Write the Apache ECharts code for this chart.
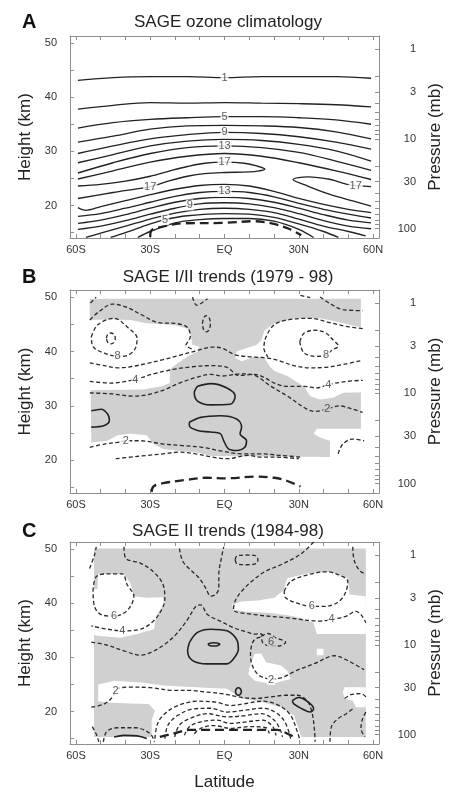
<!DOCTYPE html>
<html>
<head>
<meta charset="utf-8">
<title>SAGE ozone climatology and trends</title>
<script src="https://cdn.jsdelivr.net/npm/echarts@6/dist/echarts.min.js"></script>
<style>
  html, body { margin: 0; padding: 0; background: #fff; }
  #cht { width: 452px; height: 792px; }
</style>
</head>
<body>
<div id="cht"></div>
<script>
const FONT = '"Liberation Sans", Arial, Helvetica, sans-serif';

// ---- axes ----
const latTicks = [-60, -50, -40, -30, -20, -10, 0, 10, 20, 30, 40, 50, 60];
const latLabels = [-60, -30, 0, 30, 60];
const heightTicks = [15, 20, 25, 30, 35, 40, 45, 50];
const heightLabels = [20, 30, 40, 50];
const pressureTicks = [1, 2, 3, 4, 5, 6, 7, 8, 9, 10, 20, 30, 40, 50, 60, 70, 80, 90, 100];
const pressureLabels = [1, 3, 10, 30, 100];
// height of 1 mb and scale height
const H_1MB = 48.9;
const SCALE_H = 7.2;

const panelLetters = ['A', 'B', 'C'];
const panelTitles = ['SAGE ozone climatology', 'SAGE I/II trends (1979 - 98)', 'SAGE II trends (1984-98)'];

// ---- panel A: climatology contours [lat, km] ----
const climContours = [
  [[-59.2,43.1],[-45,43.6],[-30,43.8],[-15,43.8],[0,43.6],[15,43.8],[30,43.8],[45,43.8],[59.2,43.5]],
  [[-59.2,37.8],[-45,38.5],[-30,39.0],[-15,38.9],[0,39.0],[15,38.9],[30,38.8],[45,38.6],[59.2,38.2]],
  [[-59.2,34.3],[-45,35.3],[-30,35.9],[-15,36.2],[0,36.4],[15,36.4],[30,36.2],[45,35.8],[59.2,35.0]],
  [[-59.2,31.7],[-45,32.8],[-30,34.1],[-15,34.7],[0,34.8],[15,34.7],[30,34.4],[45,33.6],[59.2,32.3]],
  [[-59.2,29.6],[-45,31.0],[-30,32.3],[-15,33.1],[0,33.5],[15,33.3],[30,32.7],[45,31.7],[59.2,30.4]],
  [[-59.2,27.9],[-45,29.4],[-30,31.0],[-15,31.9],[0,32.2],[15,32.0],[30,31.3],[45,30.1],[59.2,28.2]],
  [[-59.2,26.0],[-45,27.9],[-30,29.6],[-15,30.7],[0,31.0],[15,30.7],[30,29.8],[45,28.2],[59.2,26.5]],
  [[-59.2,24.9],[-45,26.4],[-30,28.0],[-15,29.1],[0,29.6],[15,29.1],[30,27.9],[45,26.4],[59.2,24.8]],
  [[-59.2,21.3],[-45,22.4],[-30,23.5],[-22,24.6],[-15,25.4],[-8,25.9],[0,26.1],[10,26.2],[14,26.4],[16.3,26.7],
   [13,27.3],[8,27.8],[0,28.0],[-8,27.8],[-15,27.2],[-22,26.4],[-30,25.4],[-40,24.5],[-50,23.9],[-59.2,23.6]],
  [[59.2,23.5],[49.5,23.9],[42.9,24.8],[33.6,25.3],[27.7,24.8],[33.6,23.6],[42.9,22.0],[52.2,20.8],[59.2,19.9]],
  [[-59.2,19.6],[-56,19.1],[-50,19.8],[-40,20.9],[-30,22.0],[-20,23.0],[-10,23.7],[0,23.9],[10,23.6],[20,22.6],[30,21.3],[40,20.2],[50,19.3],[59.2,18.7]],
  [[-59.2,18.0],[-50,18.5],[-40,19.5],[-30,20.6],[-20,21.7],[-10,22.4],[0,22.6],[10,22.4],[20,21.6],[30,20.4],[40,19.3],[50,18.4],[59.2,17.7]],
  [[-59.2,16.7],[-50,17.3],[-40,18.3],[-30,19.5],[-20,20.6],[-10,21.3],[0,21.5],[10,21.3],[20,20.6],[30,19.5],[40,18.3],[50,17.3],[59.2,16.8]],
  [[-59.2,15.6],[-50,16.2],[-40,17.2],[-30,18.4],[-20,19.5],[-10,20.3],[0,20.5],[10,20.3],[20,19.6],[30,18.5],[40,17.2],[50,16.2],[59.2,15.7]],
  [[-56,14.1],[-50,14.9],[-40,16.2],[-30,17.5],[-20,18.6],[-10,19.3],[0,19.5],[10,19.3],[20,18.7],[30,17.5],[40,16.2],[50,15.2],[57,14.4]],
  [[-46,14.1],[-40,15.0],[-30,16.6],[-24,17.4],[-15,18.1],[0,18.5],[10,18.4],[20,17.8],[30,16.6],[40,15.2],[46,14.1]],
  [[-35,14.1],[-30,15.2],[-20,16.8],[-10,17.4],[0,17.6],[10,17.6],[20,17.1],[30,15.6],[36,14.1]],
];
const climTropopause = [[-30,14.2],[-29.5,15.4],[-25,16.1],[-17,16.7],[0,16.8],[12,17.1],[19,16.7],[26,15.7],[31,14.5]];
const climLabels = [
  [0,43.6,'1'], [0,36.4,'5'], [0,33.5,'9'], [0,31.0,'13'], [0,28.0,'17'],
  [-30,23.5,'17'], [53,23.7,'17'], [0,22.6,'13'], [-14,20.1,'9'], [-24,17.4,'5'],
];

// ---- panel B: SAGE I/II trends ----
const trend1Shade = [[-54.5,49.7],[55.1,49.7],[55.1,25.8],[37.3,25.8],[36.0,24.9],[38.6,24.2],[42.6,23.6],[42.6,20.6],
  [-5.0,20.8],[-11.6,21.5],[-18.2,21.7],[-24.8,22.1],[-28.7,23.0],[-31.4,24.6],[-38.0,24.9],[-43.2,24.6],[-47.2,23.6],[-53.8,23.3]];
const trend1Clear = [
  [[-56.4,45.8],[-44.6,45.9],[-38.0,45.8],[-31.4,45.2],[-24.8,45.0],[-19.5,44.8],[-14.9,44.2],[-13.5,42.7],[-12.9,41.2],
   [-10.2,40.9],[-10.9,40.0],[-14.9,39.1],[-18.8,37.9],[-22.1,36.7],[-22.1,34.2],[-25.4,33.6],[-32.7,33.0],[-56.4,32.9]],
  [[57.1,44.2],[45.2,45.5],[38.6,46.1],[28.0,46.1],[20.1,45.2],[16.2,43.9],[14.9,42.1],[12.9,41.2],[10.9,40.9],[6.9,40.3],
   [4.9,40.0],[4.3,38.8],[6.9,38.2],[12.2,39.1],[16.2,38.8],[18.2,37.3],[20.1,36.4],[25.4,35.5],[32.0,33.6],[34.7,31.8],
   [38.6,31.2],[43.9,31.5],[47.9,32.4],[57.1,32.5]],
];
const trend1Neg = [
  [[-54.1,48.9],[-51.8,50.0]],
  [[-54.4,45.8],[-50.5,47.4],[-45.2,48.7],[-39.9,48.2],[-33.3,46.7],[-26.7,45.3],[-18.8,45.1],[-14.9,44.4],[-13.8,42.7],[-15.5,41.2],[-12.2,40.3]],
  [[-53.8,42.7],[-51.2,44.9],[-44.6,46.1],[-39.3,44.5],[-35.3,42.4],[-36.0,40.6],[-38.6,39.4],[-42.6,39.1],[-48.5,39.7],[-53.1,40.9],[-53.8,42.7]],
  [[-47.7,42.4],[-47.2,43.1],[-45.9,43.4],[-44.6,43.1],[-44.1,42.4],[-44.6,41.7],[-45.9,41.4],[-47.2,41.7],[-47.7,42.4]],
  [[-54.4,37.9],[-48.5,37.4],[-43.2,37.0],[-38.0,37.2],[-31.3,37.8],[-24.8,38.5],[-18.2,39.3],[-11.6,40.1],[-5.0,40.8],[-1.0,40.6],
   [4.3,39.4],[10.9,39.0],[17.5,38.8],[22.8,38.2],[28.0,37.4],[34.6,37.0],[41.2,37.1],[47.8,37.6],[55.8,38.4]],
  [[55.8,44.2],[49.2,44.6],[42.6,45.3],[34.6,46.1],[25.4,45.8],[20.1,44.9],[16.8,42.7],[15.9,40.6],[17.5,39.0]],
  [[30.4,41.8],[32.0,43.3],[36.0,43.9],[40.6,43.5],[43.9,42.1],[46.0,41.0],[43.2,40.2],[41.0,39.3],[36.6,39.1],[32.0,39.8],[30.4,41.8]],
  [[38.6,50.0],[42.6,48.8],[47.8,47.7],[55.8,47.5]],
  [[30.7,50.3],[34.6,49.9]],
  [[-12.9,50.0],[-11.2,48.5],[-6.9,49.7]],
  [[-8.9,45.1],[-8.4,46.2],[-7.3,46.6],[-6.2,46.2],[-5.7,45.1],[-6.2,44.0],[-7.3,43.6],[-8.4,44.0],[-8.9,45.1]],
  [[-54.4,34.5],[-45.9,34.2],[-36.6,34.8],[-28.7,35.9],[-20.8,36.7],[-12.9,37.2],[-6.3,37.4],[1.0,37.1],[5.6,35.6],[12.2,35.8],
   [16.2,35.2],[20.1,34.2],[25.4,33.6],[32.0,33.6],[37.3,33.3],[41.9,33.9],[49.2,34.5],[55.8,34.7]],
  [[-54.4,32.4],[-45.2,32.2],[-37.3,31.8],[-30.7,32.1],[-24.1,33.0],[-18.2,34.2],[-10.9,35.3],[-5.6,35.8],[-1.0,35.5],[6.9,35.9],
   [12.2,35.6],[18.8,33.6],[25.4,31.8],[33.3,29.4],[36.6,29.0],[41.2,29.4],[46.5,30.0],[51.8,29.4],[55.8,28.8]],
  [[-54.4,22.4],[-48.5,23.0],[-43.2,23.3],[-39.9,23.6],[-34.0,23.6],[-24.8,23.0],[-16.8,22.7],[-8.9,22.4],[-2.3,21.8],[6.9,21.2],
   [14.8,21.2],[22.8,20.9],[30.7,20.6]],
  [[-43.9,20.3],[-38.0,20.6],[-31.4,20.9],[-24.8,21.2],[-18.2,21.5],[-11.6,21.2],[-5.0,20.6],[1.0,20.3],[9.6,20.9],[14.8,20.6],[20.1,20.6],[30.0,20.3]],
  [[45.9,21.2],[47.8,23.0],[51.8,23.9],[56.4,23.6]],
];
const trend1Pos = [
  [[-53.8,29.1],[-49.8,29.4],[-47.2,28.5],[-46.5,27.3],[-48.5,26.4],[-53.8,26.1]],
  [[-10.9,33.6],[-5.6,34.1],[1.0,33.3],[4.3,31.8],[2.3,30.3],[-5.6,30.2],[-10.9,30.9],[-12.2,32.4],[-10.9,33.6]],
  [[-14.2,27.0],[-9.6,27.9],[-1.7,28.2],[4.9,27.6],[6.9,26.1],[6.3,24.9],[8.9,23.6],[8.2,22.4],[4.9,21.8],[1.6,22.1],
   [-0.3,23.6],[-1.7,24.9],[-5.6,25.2],[-10.9,25.5],[-14.2,26.4],[-14.2,27.0]],
];
const trend1Tropopause = [[-29.4,14.2],[-28.7,15.2],[-24.8,15.8],[-15.5,16.4],[-7.6,16.8],[1.0,16.7],[12.2,17.0],[20.1,16.8],[25.4,16.2],[30.7,15.2]];
const trend1LabelsClear = [[-43.2,39.2,'8'], [-36.0,34.8,'4'], [-39.9,23.6,'2'], [41.0,39.4,'8'], [41.9,33.9,'4']];
const trend1LabelsShaded = [[41.5,29.4,'2']];

// ---- panel C: SAGE II trends ----
const trend2Shade = [[-52.7,50.1],[57.1,50.1],[57.1,15.3],[-52.7,15.3]];
const trend2Clear = [
  [[-53.8,42.5],[-51.3,42.6],[-51.0,45.4],[-40.6,45.4],[-38.0,43.7],[-36.6,41.3],[-31.4,41.0],[-24.8,41.1],[-24.5,39.7],[-27.4,37.9],
   [-28.5,35.2],[-35.3,34.3],[-41.9,33.6],[-51.2,34.0],[-53.8,34.2]],
  [[-51.0,25.0],[-44.6,25.7],[-32.7,25.3],[-24.8,24.8],[-11.6,24.5],[1.0,24.2],[6.9,22.4],[14.8,21.8],[22.8,20.8],[28.0,19.3],
   [31.3,15.0],[-29.4,15.0],[-29.4,18.4],[-28.1,20.2],[-30.7,21.4],[-38.0,21.5],[-45.9,21.6],[-51.0,21.9]],
  [[24.1,42.8],[25.4,44.6],[33.3,45.5],[42.6,45.8],[49.8,44.6],[50.5,41.6],[57.1,41.3],[57.1,34.3],[42.6,34.3],[37.3,34.3],
   [36.0,36.4],[28.0,37.6],[18.8,38.2],[9.6,38.4],[3.6,38.8],[3.0,39.7],[6.9,40.3],[13.5,40.5],[20.1,41.0],[24.1,42.5]],
  [[10.2,28.2],[12.2,30.6],[14.8,30.7],[16.8,29.1],[22.8,28.5],[25.4,27.5],[26.7,26.0],[18.8,25.1],[12.2,25.7],[9.6,26.9]],
  [[37.3,31.6],[40.0,31.6],[40.0,30.4],[37.3,30.4]],
  [[48.5,24.5],[57.1,24.5],[57.1,20.8],[53.1,20.8],[51.8,22.0],[48.5,22.4],[47.8,23.6]],
];
const trend2Neg = [
  [[-54.5,46.4],[-52.5,48.9],[-51.8,50.4]],
  [[-53.1,42.2],[-51.8,44.9],[-47.2,45.4],[-41.3,45.4],[-39.3,43.4],[-36.6,41.3],[-38.0,39.4],[-40.6,38.2],[-44.6,37.6],[-49.8,37.9],[-52.5,39.4],[-53.1,42.2]],
  [[-40.6,50.4],[-39.9,48.3],[-34.0,47.4],[-28.7,45.8],[-24.8,43.4],[-24.1,40.7],[-25.4,38.8],[-28.7,36.7],[-34.0,35.2],[-41.3,34.9],[-47.2,35.2],[-53.8,35.8]],
  [[-18.2,50.1],[-16.8,47.7],[-12.9,45.8],[-10.2,44.6],[-7.6,42.8],[-5.6,41.3],[-3.6,41.6],[-2.3,42.8],[-2.3,45.2],[-1.0,48.9],[-0.3,50.4]],
  [[4.3,48.0],[5.0,48.7],[8.9,48.9],[12.8,48.7],[13.5,48.0],[12.8,47.3],[8.9,47.1],[5.0,47.3],[4.3,48.0]],
  [[-53.8,32.8],[-47.9,32.3],[-40.6,31.2],[-34.0,30.4],[-29.4,31.0],[-24.1,32.4],[-19.5,34.3],[-14.9,37.0],[-11.6,39.4],[-9.6,39.7],
   [-6.9,37.9],[-1.7,36.7],[3.6,35.5],[8.9,34.7],[12.2,34.3],[14.2,34.4],[15.5,34.0],[12.2,33.3],[10.9,32.1],[10.5,30.3],
   [11.5,28.2],[14.2,26.6],[18.8,26.0],[23.4,26.3],[28.7,27.5],[36.6,28.9],[44.5,30.3],[49.8,29.4],[56.4,27.7]],
  [[14.8,33.9],[17.5,34.4],[20.8,33.6],[24.7,32.8],[22.1,32.1],[18.1,32.1],[15.5,32.7],[14.8,33.9]],
  [[24.1,42.2],[26.7,44.0],[33.3,45.2],[41.2,45.8],[47.8,44.9],[49.8,44.0],[48.5,41.6],[45.2,40.0],[39.9,39.4],[35.3,39.4],[29.4,40.0],[24.7,41.0],[24.1,42.2]],
  [[36.0,51.3],[32.0,49.5],[28.0,48.3],[22.8,47.1],[16.2,45.8],[10.9,44.0],[6.9,42.2],[4.3,40.4],[3.6,38.8],[12.2,37.9],
   [25.4,37.3],[38.6,36.7],[43.2,37.0],[49.2,37.6],[53.1,38.5],[55.1,37.9],[57.1,36.4]],
  [[51.8,50.4],[52.5,47.7],[55.1,45.8],[57.1,45.5]],
  [[-53.8,20.8],[-48.5,21.4],[-45.2,22.7],[-43.2,24.2],[-38.0,24.5],[-30.0,24.4],[-20.8,23.9],[-14.2,23.9],[-7.6,23.6],[-1.0,23.3],
   [5.6,22.7],[12.2,22.4],[18.8,22.7],[24.7,23.0],[29.4,23.0],[33.3,22.0],[35.3,19.9],[36.4,16.3],[36.6,14.4]],
  [[-28.1,15.0],[-27.0,17.8],[-24.1,19.6],[-18.8,21.1],[-10.9,21.9],[-3.0,21.7],[2.3,21.1],[7.6,21.4],[15.5,21.9],[22.1,21.1],[26.7,19.3],[29.4,16.3],[30.3,15.0]],
  [[-24.1,15.0],[-22.8,17.5],[-18.8,19.3],[-12.2,20.5],[-5.6,20.6],[1.0,19.9],[7.6,20.2],[15.5,20.6],[21.4,19.6],[24.7,17.8],[26.7,15.0]],
  [[-20.1,15.3],[-18.2,17.5],[-13.5,18.8],[-6.9,19.6],[1.0,19.0],[7.6,19.2],[14.8,19.6],[20.1,18.4],[22.8,16.3],[23.4,15.3]],
  [[-16.2,15.6],[-14.2,17.2],[-9.6,18.1],[-3.0,18.4],[2.3,17.8],[8.9,18.1],[15.5,18.4],[19.5,17.2],[20.8,15.6]],
  [[-12.2,15.9],[-9.6,16.9],[-4.3,17.4],[2.3,16.9],[10.2,17.2],[16.8,17.0],[18.1,15.9]],
  [[-53.4,17.2],[-51.6,15.6],[-50.8,14.4]],
  [[-48.9,14.4],[-47.6,16.3],[-43.2,17.0],[-36.0,17.0],[-30.0,15.9],[-28.3,14.4]],
  [[42.6,14.4],[43.2,17.2],[45.9,18.7],[49.2,19.6],[51.8,20.5]],
  [[48.5,22.4],[51.1,23.1],[55.1,23.3],[57.1,22.7]],
  [[57.1,19.9],[55.8,18.7],[55.1,16.9],[56.7,15.3]],
];
const trend2Pos = [
  [[-14.2,32.7],[-10.9,34.6],[-5.6,35.2],[1.0,34.9],[4.9,33.3],[5.6,31.5],[3.6,29.7],[1.0,28.8],[-6.9,28.8],[-12.9,29.4],[-14.9,31.2],[-14.2,32.7]],
  [[-6.7,32.4],[-6.0,32.6],[-4.3,32.7],[-2.6,32.6],[-1.9,32.4],[-2.6,32.2],[-4.3,32.1],[-6.0,32.2],[-6.7,32.4]],
  [[4.4,23.7],[4.8,24.2],[5.6,24.4],[6.4,24.2],[6.8,23.7],[6.4,23.2],[5.6,23.0],[4.8,23.2],[4.4,23.7]],
  [[27.4,22.0],[30.0,22.6],[34.0,21.7],[36.0,20.5],[34.6,19.9],[31.3,20.5],[28.0,21.4],[27.4,22.0]],
  [[-44.6,15.3],[-40.6,15.6],[-35.3,15.5],[-31.4,15.0]],
];
const trend2Tropopause = [[-26.1,15.3],[-20.8,15.9],[-14.2,16.6],[-8.9,16.6],[1.0,16.6],[6.9,16.6],[14.8,16.6],[21.4,16.6],[25.4,15.9],[29.4,15.0]];
const trend2LabelsClear = [[-44.6,37.6,'6'], [-41.3,34.9,'4'], [-44.0,23.8,'2'], [35.3,39.4,'6'], [43.2,37.0,'4'], [18.8,25.9,'2']];
const trend2LabelsShaded = [[18.8,32.8,'6']];

// ---- helpers ----
const p2h = p => H_1MB - SCALE_H * Math.log(p);
const h2p = h => Math.exp((H_1MB - h) / SCALE_H);
const latFmt = v => (v === 0 ? 'EQ' : v < 0 ? `${-v}S` : `${v}N`);

const FRAME = '#8f8f8f';
const GRAY = '#d0d0d0';
const INK = '#222';

const grids = [
  { left: 70, top: 36, width: 315, height: 202 },
  { left: 70, top: 290, width: 315, height: 203 },
  { left: 70, top: 542, width: 315, height: 204 },
];
const titleRows = [22, 277, 531];

const axisTextStyle = { fontSize: 11, color: '#333', fontFamily: FONT };
const nameStyle = { fontSize: 17, color: INK, fontFamily: FONT };

const xAxes = [];
const yAxes = [];
grids.forEach((g, gi) => {
  const base = {
    type: 'value', gridIndex: gi, min: -62.4, max: 62.4,
    axisLine: { show: true, onZero: false, lineStyle: { color: FRAME, width: 1 } },
    axisTick: { show: true, inside: true, length: 4, customValues: latTicks, lineStyle: { color: FRAME } },
    splitLine: { show: false },
  };
  xAxes.push({
    ...base, position: 'bottom',
    axisLabel: { show: true, customValues: latLabels, formatter: latFmt, margin: 6, ...axisTextStyle },
    name: gi === 2 ? 'Latitude' : '', nameLocation: 'middle', nameGap: 30, nameTextStyle: nameStyle,
  });
  xAxes.push({ ...base, position: 'top', axisLabel: { show: false } });

  yAxes.push({
    type: 'value', gridIndex: gi, position: 'left', min: 14, max: 51.3,
    axisLine: { show: true, onZero: false, lineStyle: { color: FRAME, width: 1 } },
    axisTick: { show: true, inside: true, length: 4, customValues: heightTicks, lineStyle: { color: FRAME } },
    axisLabel: { show: true, customValues: heightLabels, margin: 13, ...axisTextStyle },
    splitLine: { show: false },
    name: 'Height (km)', nameLocation: 'middle', nameRotate: 90, nameGap: 33, nameTextStyle: nameStyle,
  });
  yAxes.push({
    type: 'value', gridIndex: gi, position: 'right', min: 14, max: 51.3,
    axisLine: { show: true, onZero: false, lineStyle: { color: FRAME, width: 1 } },
    axisTick: { show: true, inside: true, length: 4, customValues: pressureTicks.map(p2h), lineStyle: { color: FRAME } },
    axisLabel: {
      show: true, customValues: pressureLabels.map(p2h), formatter: v => String(Math.round(h2p(v))),
      align: 'right', margin: 37, ...axisTextStyle,
    },
    splitLine: { show: false },
    name: 'Pressure (mb)', nameLocation: 'middle', nameRotate: 90, nameGap: 48, nameTextStyle: nameStyle,
  });
});

function axesOf(gi) {
  return { xAxisIndex: gi * 2, yAxisIndex: gi * 2 };
}

function areaSeries(gi, pts, color, z) {
  return {
    type: 'custom', ...axesOf(gi), data: pts, silent: true, z, clip: true,
    renderItem: (params, api) => {
      if (params.dataIndex !== 0) return null;
      return { type: 'polygon', shape: { points: pts.map(p => api.coord(p)) }, style: { fill: color } };
    },
  };
}

function lineSeries(gi, pts, lineStyle) {
  return {
    type: 'line', ...axesOf(gi), data: pts, smooth: 0.35, showSymbol: false, symbol: 'none',
    silent: true, z: 3, lineStyle,
  };
}

function labelSeries(gi, items, bg) {
  return {
    type: 'scatter', ...axesOf(gi), symbolSize: 1, silent: true, z: 6,
    itemStyle: { color: 'rgba(0,0,0,0)' },
    data: items.map(([x, y, t]) => ({ value: [x, y], name: t })),
    label: {
      show: true, position: 'inside', formatter: '{b}', backgroundColor: bg, padding: [0, 1],
      fontSize: 11, color: '#333', fontFamily: FONT,
    },
  };
}

const solid = { color: INK, width: 1.35 };
const solidBold = { color: INK, width: 1.6 };
const dashed = { color: '#2a2a2a', width: 1.3, type: [4, 2.5] };
const tropo = { color: INK, width: 2.3, type: [9, 5] };

const series = [
  ...climContours.map(c => lineSeries(0, c, solid)),
  lineSeries(0, climTropopause, tropo),
  labelSeries(0, climLabels, '#fff'),

  areaSeries(1, trend1Shade, GRAY, 1),
  ...trend1Clear.map(p => areaSeries(1, p, '#fff', 2)),
  ...trend1Neg.map(c => lineSeries(1, c, dashed)),
  ...trend1Pos.map(c => lineSeries(1, c, solidBold)),
  lineSeries(1, trend1Tropopause, tropo),
  labelSeries(1, trend1LabelsClear, '#fff'),
  labelSeries(1, trend1LabelsShaded, GRAY),

  areaSeries(2, trend2Shade, GRAY, 1),
  ...trend2Clear.map(p => areaSeries(2, p, '#fff', 2)),
  ...trend2Neg.map(c => lineSeries(2, c, dashed)),
  ...trend2Pos.map(c => lineSeries(2, c, solidBold)),
  lineSeries(2, trend2Tropopause, tropo),
  labelSeries(2, trend2LabelsClear, '#fff'),
  labelSeries(2, trend2LabelsShaded, GRAY),
];

const graphic = titleRows.flatMap((y, i) => [
  {
    type: 'text', x: 22, y, silent: true,
    style: { text: panelLetters[i], font: `bold 20px ${FONT}`, fill: '#111', textVerticalAlign: 'middle', verticalAlign: 'middle' },
  },
  {
    type: 'text', x: 228, y, silent: true,
    style: {
      text: panelTitles[i], font: `17px ${FONT}`, fill: INK,
      textAlign: 'center', align: 'center', textVerticalAlign: 'middle', verticalAlign: 'middle',
    },
  },
]);

const cht = echarts.init(document.getElementById('cht'), null, { renderer: 'canvas' });
cht.setOption({
  animation: false,
  backgroundColor: '#fff',
  textStyle: { fontFamily: FONT },
  grid: grids,
  xAxis: xAxes,
  yAxis: yAxes,
  graphic,
  series,
});
window.onresize = () => cht.resize();
</script>
</body>
</html>
